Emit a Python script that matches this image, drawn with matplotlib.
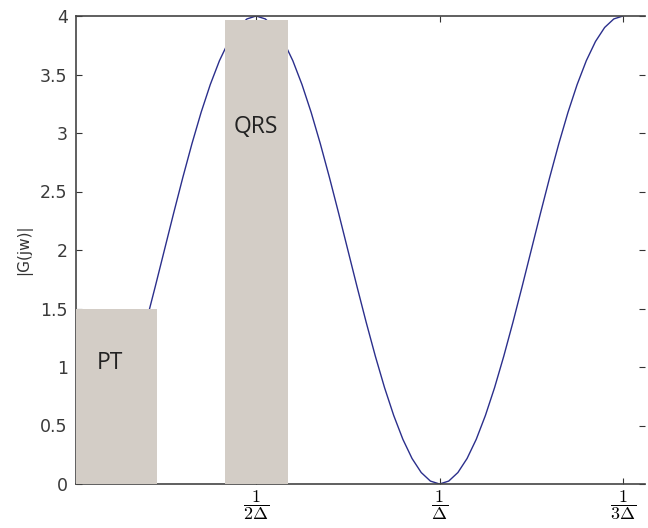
import matplotlib
matplotlib.use("Agg")
import matplotlib.pyplot as plt

plt.rcParams['mathtext.fontset'] = 'cm'

# Curve |G(jw)| (x in units of 1/Delta)
freq = [0.000, 0.025, 0.050, 0.075, 0.100, 0.125, 0.150, 0.175, 0.200, 0.225,
        0.250, 0.275, 0.300, 0.325, 0.350, 0.375, 0.400, 0.425, 0.450, 0.475,
        0.500, 0.525, 0.550, 0.575, 0.600, 0.625, 0.650, 0.675, 0.700, 0.725,
        0.750, 0.775, 0.800, 0.825, 0.850, 0.875, 0.900, 0.925, 0.950, 0.975,
        1.000, 1.025, 1.050, 1.075, 1.100, 1.125, 1.150, 1.175, 1.200, 1.225,
        1.250, 1.275, 1.300, 1.325, 1.350, 1.375, 1.400, 1.425, 1.450, 1.475,
        1.500]
gain = [0.000, 0.025, 0.098, 0.218, 0.382, 0.586, 0.824, 1.092, 1.382, 1.687,
        2.000, 2.313, 2.618, 2.908, 3.176, 3.414, 3.618, 3.782, 3.902, 3.975,
        4.000, 3.975, 3.902, 3.782, 3.618, 3.414, 3.176, 2.908, 2.618, 2.313,
        2.000, 1.687, 1.382, 1.092, 0.824, 0.586, 0.382, 0.218, 0.098, 0.025,
        0.000, 0.025, 0.098, 0.218, 0.382, 0.586, 0.824, 1.092, 1.382, 1.687,
        2.000, 2.313, 2.618, 2.908, 3.176, 3.414, 3.618, 3.782, 3.902, 3.975,
        4.000]

# Shaded bands
band_names = ["PT", "QRS"]
band_left = [0.0, 0.415]
band_right = [0.23, 0.587]
band_height = [1.5, 3.97]
band_label_x = [0.102, 0.50]
band_label_y = [1.03, 3.05]

xtick_pos = [0.5, 1.0, 1.5]
xtick_labels = [r'$\dfrac{1}{2\Delta}$', r'$\dfrac{1}{\Delta}$', r'$\dfrac{1}{3\Delta}$']
ytick_pos = [0, 0.5, 1, 1.5, 2, 2.5, 3, 3.5, 4]
ytick_labels = ['0', '0.5', '1', '1.5', '2', '2.5', '3', '3.5', '4']

fig = plt.figure(figsize=(6.48, 5.28), dpi=100)
ax = fig.add_axes([76/648, 44/528, 569/648, 468/528])

ax.plot(freq, gain, color='#2b2f8c', linewidth=1.0, zorder=2)

box_color = '#d3cdc6'
for name, l, r, h, lx, ly in zip(band_names, band_left, band_right, band_height,
                                 band_label_x, band_label_y):
    ax.bar(l, h, width=r - l, align='edge', color=box_color, edgecolor='none', zorder=3)
    ax.text(lx, ly, name, fontsize=16.5, family='Open Sans', color='#222222',
            ha='center', va='center', zorder=4)

ax.set_xlim(0.009, 1.56)
ax.set_ylim(0, 4)
ax.set_xticks(xtick_pos)
ax.set_xticklabels(xtick_labels, fontsize=13)
ax.set_yticks(ytick_pos)
ax.set_yticklabels(ytick_labels, fontsize=12.5, color='#3a3a3a', family='DejaVu Sans')
ax.set_ylabel('|G(jw)|', fontsize=11, color='#333333', labelpad=6)

ax.tick_params(axis='both', direction='in', length=4, width=0.8, color='#333333',
               top=True, right=True)
ax.tick_params(axis='y', pad=6)
ax.tick_params(axis='x', pad=3)
for side in ['left', 'bottom', 'top']:
    ax.spines[side].set_color('#444444')
    ax.spines[side].set_linewidth(1.2)
ax.spines['right'].set_visible(False)

fig.savefig('out.png', dpi=100)
